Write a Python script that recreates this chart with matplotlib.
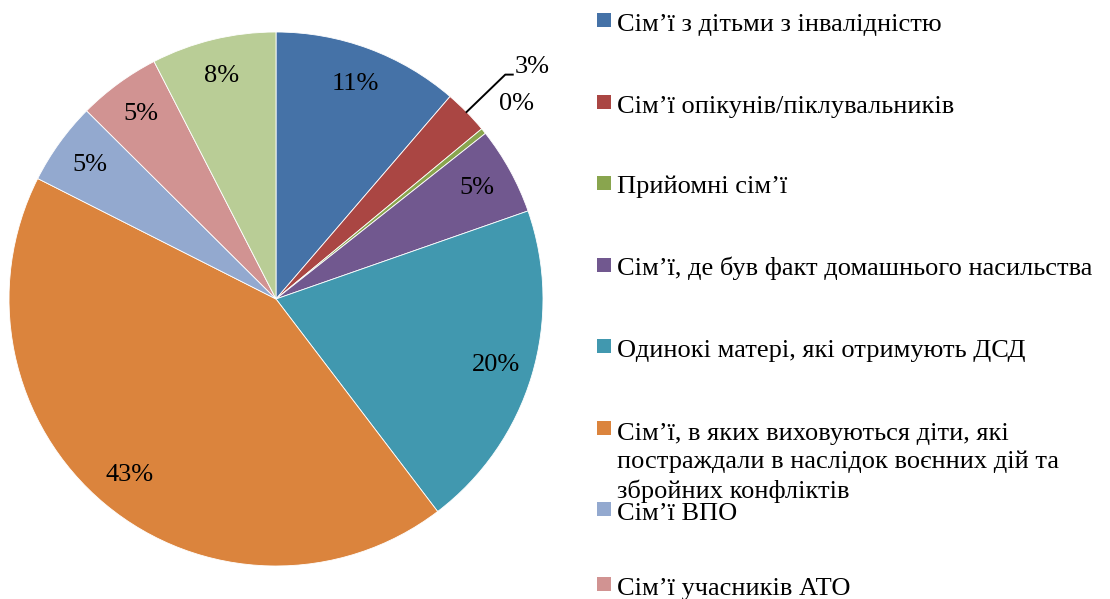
import numpy as np
import matplotlib.pyplot as plt

# Categories (the last one falls below the visible legend area)
categories = [
    "Сім’ї з дітьми з інвалідністю",
    "Сім’ї опікунів/піклувальників",
    "Прийомні сім’ї",
    "Сім’ї, де був факт домашнього насильства",
    "Одинокі матері, які отримують ДСД",
    "Сім’ї, в яких виховуються діти, які\nпостраждали в наслідок воєнних дій та\nзбройних конфліктів",
    "Сім’ї ВПО",
    "Сім’ї учасників АТО",
    "Інші сім’ї",
]
shares = [11.3, 2.7, 0.35, 5.3, 20.0, 42.8, 5.0, 5.0, 7.55]
colors = ["#4572A7", "#AA4643", "#89A54E", "#71588F", "#4198AF",
          "#DB843D", "#93A9CF", "#D19392", "#B9CD96"]

plt.rcParams['font.family'] = ['Liberation Serif', 'DejaVu Serif']

W, H = 1110, 599
fig = plt.figure(figsize=(W / 100, H / 100), dpi=100)

# pie centre (276, 299), radius 267 px
cx, cy, r = 276, 299, 267
ax = fig.add_axes([(cx - r) / W, (H - cy - r) / H, 2 * r / W, 2 * r / H])

wedges, texts, autotexts = ax.pie(
    shares, colors=colors, startangle=90, counterclock=False,
    autopct='%.0f%%', pctdistance=0.86, radius=1.0,
    wedgeprops=dict(edgecolor='white', linewidth=0.6),
    textprops=dict(fontsize=19, color='black'))
ax.set_xlim(-1, 1)
ax.set_ylim(-1, 1)
ax.set_aspect('equal')
ax.axis('off')

# small slices: labels outside, the 3% one with a leader line
cum = np.cumsum(shares) - np.array(shares) / 2
theta = np.deg2rad(cum / sum(shares) * 360)

t1 = theta[1]
edge = np.array([np.sin(t1), np.cos(t1)])
elbow = edge + np.array([0.145, 0.14])
end = elbow + np.array([0.028, 0.0])
ax.plot([edge[0], elbow[0], end[0]], [edge[1], elbow[1], end[1]],
        color='black', lw=1.4, clip_on=False)
autotexts[1].set_position((end[0] + 0.008, end[1] + 0.028))
autotexts[1].set_ha('left')

t2 = theta[2]
autotexts[2].set_position((1.16 * np.sin(t2), 1.16 * np.cos(t2)))

# legend drawn on the right (only the first eight entries fit in the picture)
legend_y = [20, 102, 183, 265, 346, 428, 509, 584]
line_px = 29.7
for name, col, y in zip(categories, colors, legend_y):
    fig.patches.append(plt.Rectangle((597 / W, 1 - (y + 7) / H), 14 / W, 14 / H,
                                     transform=fig.transFigure, facecolor=col,
                                     edgecolor='none'))
    # baseline of the last line
    base = y + 10.5 + name.count('\n') * line_px
    fig.text(617 / W, 1 - base / H, name, fontsize=19, ha='left',
             va='baseline', linespacing=1.33)

fig.savefig('out.png', dpi=100)
